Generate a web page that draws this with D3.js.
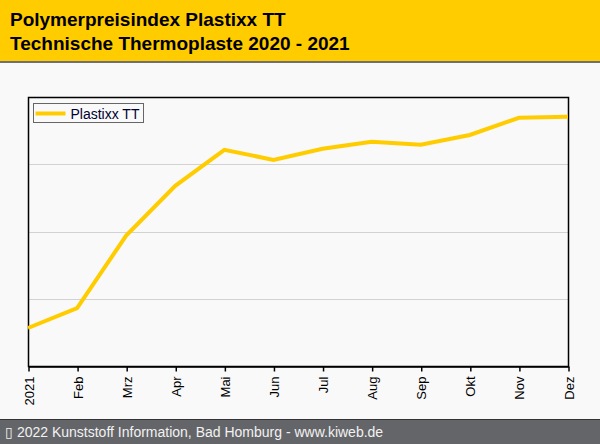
<!DOCTYPE html>
<html lang="de">
<head>
  <meta charset="UTF-8">
  <title>Polymerpreisindex Plastixx TT</title>
  <style>
    body { margin: 0; background: #f9f9f9; }
    svg { display: block; font-family: "Liberation Sans", Arial, sans-serif; }
    .grid line { stroke: #d2d2d2; stroke-width: 1px; }
  </style>
  <script src="https://d3js.org/d3.v7.min.js"></script>
</head>
<body>
<div id="chart"></div>
<script>
  // Monatswerte (Index, aus dem Bild geschaetzt)
  var months = ["2021", "Feb", "Mrz", "Apr", "Mai", "Jun", "Jul", "Aug", "Sep", "Okt", "Nov", "Dez"];
  var values = [111.3, 117.2, 138.8, 153.6, 164.3, 161.3, 164.6, 166.7, 165.8, 168.7, 173.8, 174.1];
  var gridTicks = [120, 140, 160];
  var seriesName = "Plastixx TT";
  var titleLines = ["Polymerpreisindex Plastixx TT", "Technische Thermoplaste 2020 - 2021"];
  var footerText = "\u25AF 2022 Kunststoff Information, Bad Homburg - www.kiweb.de";

  var width = 600, height = 444;
  var margin = { top: 97, right: 32, bottom: 78, left: 28 };

  var svg = d3.select("#chart").append("svg")
    .attr("width", width)
    .attr("height", height);

  svg.append("rect").attr("width", width).attr("height", height).attr("fill", "#f9f9f9");

  // header
  svg.append("rect").attr("width", width).attr("height", 61).attr("fill", "#ffcc00");
  svg.append("rect").attr("y", 61).attr("width", width).attr("height", 2).attr("fill", "#707070");
  svg.selectAll(".title")
    .data(titleLines)
    .enter().append("text")
    .attr("class", "title")
    .attr("x", 10)
    .attr("y", (d, i) => 26 + i * 24)
    .attr("font-size", "19px")
    .attr("font-weight", "bold")
    .attr("fill", "#000")
    .text(d => d);

  // footer
  svg.append("rect").attr("y", 420).attr("width", width).attr("height", 24).attr("fill", "#646569");
  svg.append("rect").attr("y", 419).attr("width", width).attr("height", 1).attr("fill", "#333");
  svg.append("text")
    .attr("x", 5)
    .attr("y", 437)
    .attr("font-size", "14px")
    .attr("fill", "#f2f2f2")
    .text(footerText);

  var x = d3.scalePoint()
    .domain(months)
    .range([margin.left, width - margin.right]);

  var y = d3.scaleLinear()
    .domain([100, 180])
    .range([height - margin.bottom, margin.top]);

  // grid
  svg.append("g")
    .attr("class", "grid")
    .selectAll("line")
    .data(gridTicks)
    .enter().append("line")
    .attr("x1", margin.left)
    .attr("x2", width - margin.right)
    .attr("y1", d => Math.round(y(d)) + 0.5)
    .attr("y2", d => Math.round(y(d)) + 0.5);

  // frame
  svg.append("rect")
    .attr("x", margin.left + 0.5)
    .attr("y", margin.top + 0.5)
    .attr("width", width - margin.left - margin.right)
    .attr("height", height - margin.top - margin.bottom)
    .attr("fill", "none")
    .attr("stroke", "#000")
    .attr("stroke-width", 1.5);

  // x axis
  var xAxis = svg.append("g")
    .attr("transform", `translate(0.5,${height - margin.bottom + 0.5})`)
    .call(d3.axisBottom(x).tickSize(5).tickSizeOuter(0));
  xAxis.select(".domain").attr("stroke", "#000").attr("stroke-width", 1.5);
  xAxis.selectAll(".tick line").attr("stroke", "#000").attr("stroke-width", 1.5);
  xAxis.selectAll(".tick text")
    .attr("font-family", "Liberation Sans, Arial, sans-serif")
    .attr("font-size", "13px")
    .attr("fill", "#000")
    .attr("transform", "rotate(-90)")
    .attr("text-anchor", "end")
    .attr("x", -10)
    .attr("y", 0)
    .attr("dy", "0.35em");

  // line
  var line = d3.line()
    .x((d, i) => x(months[i]))
    .y(d => y(d));

  svg.append("path")
    .datum(values)
    .attr("d", line)
    .attr("fill", "none")
    .attr("stroke", "#ffcc00")
    .attr("stroke-width", 4)
    .attr("stroke-linejoin", "miter");

  // legend
  var legend = svg.append("g").attr("transform", "translate(33.5,103.5)");
  legend.append("rect")
    .attr("width", 110)
    .attr("height", 19)
    .attr("fill", "#f9f9f9")
    .attr("stroke", "#666")
    .attr("stroke-width", 1);
  legend.append("line")
    .attr("x1", 2).attr("x2", 32)
    .attr("y1", 10).attr("y2", 10)
    .attr("stroke", "#ffcc00")
    .attr("stroke-width", 4);
  legend.append("text")
    .attr("x", 37)
    .attr("y", 15)
    .attr("font-size", "14px")
    .attr("fill", "#000033")
    .text(seriesName);
</script>
</body>
</html>
